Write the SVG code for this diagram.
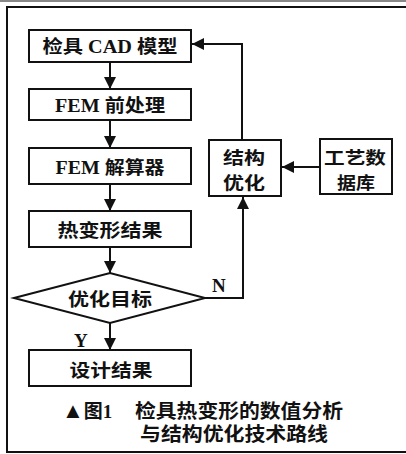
<svg xmlns="http://www.w3.org/2000/svg" width="406" height="454" viewBox="0 0 406 454">
<defs>
<style>
.box{fill:#fff;stroke:#111;stroke-width:2}
.ln{fill:none;stroke:#111;stroke-width:2}
.t{font-family:"Liberation Serif","Noto Sans CJK SC",serif;font-weight:bold;font-size:18px;fill:#111;text-anchor:middle}
.s{font-family:"Noto Sans CJK SC",sans-serif;font-weight:bold;font-size:17px;fill:#111;text-anchor:middle}
.c{font-family:"Liberation Serif","Noto Sans CJK SC",serif;font-weight:bold;font-size:19px;fill:#111}
</style>
<marker id="ah" viewBox="0 0 12 12" refX="12" refY="6" markerWidth="12" markerHeight="12" markerUnits="userSpaceOnUse" orient="auto">
<path d="M0,0 L12,6 L0,12 Z" fill="#111"/>
</marker>
</defs>
<rect x="0" y="0" width="406" height="454" fill="#fff"/>
<line x1="0" y1="1" x2="406" y2="1" stroke="#888" stroke-width="2"/>
<path d="M406,7 H7 V452 H406" fill="none" stroke="#111" stroke-width="2"/>
<g id="connectors">
<line class="ln" x1="110" y1="62" x2="110" y2="89" marker-end="url(#ah)"/>
<line class="ln" x1="110" y1="120" x2="110" y2="148" marker-end="url(#ah)"/>
<line class="ln" x1="110" y1="184" x2="110" y2="211" marker-end="url(#ah)"/>
<line class="ln" x1="110" y1="247" x2="110" y2="273" marker-end="url(#ah)"/>
<line class="ln" x1="110" y1="323" x2="110" y2="350" marker-end="url(#ah)"/>
<polyline class="ln" points="242,140 242,44 192,44" marker-end="url(#ah)"/>
<polyline class="ln" points="205,298 243,298 243,197" marker-end="url(#ah)"/>
<line class="ln" x1="320" y1="167" x2="282" y2="167" marker-end="url(#ah)"/>
<text class="c" x="212" y="292" font-size="17">N</text>
<text class="c" x="74" y="347" font-size="17">Y</text>
</g>
<g id="n1"><rect class="box" x="29" y="30" width="162" height="32"/><text class="t" x="110" y="53" textLength="135" lengthAdjust="spacingAndGlyphs">检具 CAD 模型</text></g>
<g id="n2"><rect class="box" x="29" y="89" width="162" height="31"/><text class="t" x="110" y="112" textLength="110" lengthAdjust="spacingAndGlyphs">FEM 前处理</text></g>
<g id="n3"><rect class="box" x="29" y="148" width="162" height="36"/><text class="t" x="110" y="174" textLength="109" lengthAdjust="spacingAndGlyphs">FEM 解算器</text></g>
<g id="n4"><rect class="box" x="29" y="211" width="162" height="36"/><text class="t" x="110" y="237" textLength="105" lengthAdjust="spacingAndGlyphs">热变形结果</text></g>
<g id="n5"><polygon class="box" points="14,298 110,273 205,298 110,323"/><text class="t" x="110" y="306" textLength="84" lengthAdjust="spacingAndGlyphs">优化目标</text></g>
<g id="n6"><rect class="box" x="29" y="350" width="162" height="36"/><text class="t" x="111" y="377" textLength="83" lengthAdjust="spacingAndGlyphs">设计结果</text></g>
<g id="n7"><rect class="box" x="209" y="140" width="72" height="56"/><text class="s" x="244" y="164" textLength="42" lengthAdjust="spacingAndGlyphs">结构</text><text class="s" x="244" y="189" textLength="42" lengthAdjust="spacingAndGlyphs">优化</text></g>
<g id="n8"><rect class="box" x="320" y="139" width="72" height="55"/><text class="s" x="355" y="164" textLength="62" lengthAdjust="spacingAndGlyphs">工艺数</text><text class="s" x="356" y="189" textLength="38" lengthAdjust="spacingAndGlyphs">据库</text></g>
<g id="caption">
<text class="c" x="62" y="418"><tspan font-size="22">▲</tspan>图1</text>
<text class="c" x="135" y="418" textLength="208" lengthAdjust="spacingAndGlyphs">检具热变形的数值分析</text>
<text class="c" x="140" y="441" textLength="188" lengthAdjust="spacingAndGlyphs">与结构优化技术路线</text>
</g>
</svg>
